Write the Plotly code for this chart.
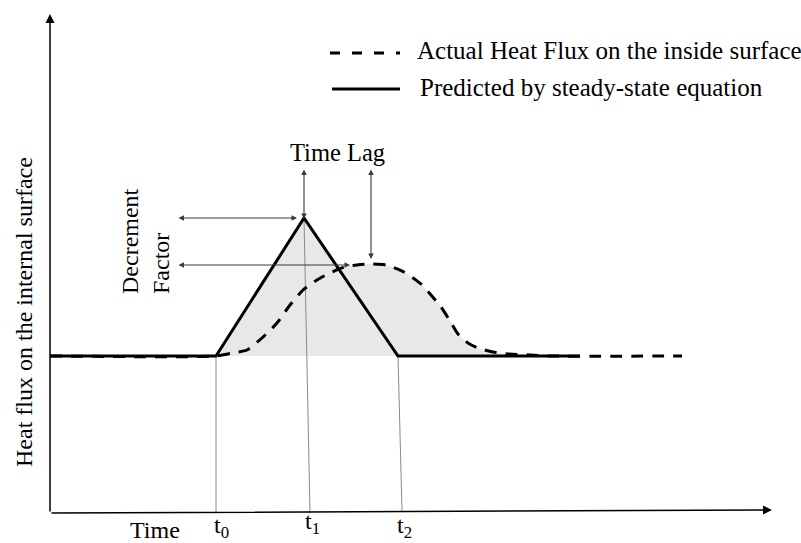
import plotly.graph_objects as go

# schematic units: time (x) and heat flux (y), arbitrary
baseline = 15.7
t0, t1, t2 = 16.6, 25.4, 34.8
peak_pred = 29.5

# predicted by steady-state equation (solid)
pred_t = [0.0, t0, t1, t2, 53.0]
pred_q = [baseline, baseline, peak_pred, baseline, baseline]

# actual heat flux on the inside surface (dashed)
act_t = [0.0, 16.6, 18.2, 19.7, 21.2, 22.7, 24.0, 25.3, 26.7, 28.0, 29.4, 30.7, 32.1,
         33.6, 35.4, 37.1, 38.1, 39.1, 40.0, 40.8, 41.8, 42.8, 44.3, 45.9, 48.0, 49.9, 63.2]
act_q = [15.7, 15.7, 16.0, 16.3, 17.5, 19.0, 20.8, 22.3, 23.3, 24.0, 24.6, 24.8, 24.9,
         24.8, 24.1, 22.9, 21.8, 20.6, 19.2, 17.9, 17.0, 16.5, 16.1, 15.9, 15.8, 15.7, 15.7]

tick_names = ["t<sub>0</sub>", "t<sub>1</sub>", "t<sub>2</sub>"]
legend_names = ["Actual Heat Flux on the inside surface", "Predicted by steady-state equation"]

FONT = "Liberation Serif"
fill_col = "#e8e8e8"

fig = go.Figure()

# shaded areas
fig.add_trace(go.Scatter(x=pred_t[1:4] + [t0], y=pred_q[1:4] + [baseline], fill="toself",
                         fillcolor=fill_col, line=dict(width=0), mode="lines", hoverinfo="skip"))
fig.add_trace(go.Scatter(x=act_t[1:-1], y=[baseline] * len(act_t[1:-1]), mode="lines",
                         line=dict(width=0), hoverinfo="skip"))
fig.add_trace(go.Scatter(x=act_t[1:-1], y=act_q[1:-1], mode="lines", fill="tonexty",
                         fillcolor=fill_col, line=dict(width=0, shape="spline", smoothing=0.6),
                         hoverinfo="skip"))

# thin guide lines down to the time axis
guide = dict(color="#8a8a8a", width=1)
fig.add_trace(go.Scatter(x=[t0, t0], y=[baseline, 0], mode="lines", line=guide, hoverinfo="skip"))
fig.add_trace(go.Scatter(x=[t1, t1 + 0.6], y=[peak_pred, 0], mode="lines", line=guide, hoverinfo="skip"))
fig.add_trace(go.Scatter(x=[t2, t2 + 0.4], y=[baseline, 0.2], mode="lines", line=guide, hoverinfo="skip"))

fig.add_trace(go.Scatter(x=act_t, y=act_q, mode="lines", name=legend_names[0],
                         line=dict(color="black", width=3, dash="12px,9px", shape="spline", smoothing=0.6)))
fig.add_trace(go.Scatter(x=pred_t, y=pred_q, mode="lines", name=legend_names[1],
                         line=dict(color="black", width=3)))

# legend drawn by hand
fig.add_shape(type="line", x0=28.0, x1=35.0, y0=46.0, y1=46.0,
              line=dict(color="black", width=3, dash="10px,12px"))
fig.add_shape(type="line", x0=28.2, x1=35.0, y0=42.4, y1=42.4, line=dict(color="black", width=3))
fig.add_annotation(x=36.5, y=46.3, text=legend_names[0], showarrow=False, xanchor="left",
                   font=dict(family=FONT, size=25, color="black"))
fig.add_annotation(x=36.8, y=42.6, text=legend_names[1], showarrow=False, xanchor="left",
                   font=dict(family=FONT, size=25, color="black"))


def arrow(x, y, ax, ay, both=True, color="#3a3a3a", width=1.1, size=1.0):
    fig.add_annotation(x=x, y=y, ax=ax, ay=ay, xref="x", yref="y", axref="x", ayref="y",
                       text="", showarrow=True, arrowhead=2, arrowsize=size, arrowwidth=width,
                       arrowcolor=color, arrowside="end+start" if both else "end",
                       startarrowhead=2, startarrowsize=size)


# axes
arrow(0, 49.9, 0, 0, both=False, color="black", width=1.5, size=1.2)
arrow(72.2, 0.3, 0, 0, both=False, color="black", width=1.5, size=1.2)

# time lag and decrement factor arrows
arrow(t1, 29.4, t1, 34.5)
arrow(32.1, 25.4, 32.1, 34.5)
arrow(24.7, peak_pred, 12.7, peak_pred)
arrow(30.0, 24.8, 12.7, 24.8)

txt = dict(family=FONT, size=24, color="black")
fig.add_annotation(x=28.7, y=36.1, text="Time Lag", showarrow=False,
                   font=dict(family=FONT, size=24.5, color="black"))
fig.add_annotation(x=9.5, y=27.2, text="Decrement<br>Factor", showarrow=False, textangle=-90,
                   align="left", font=txt)
fig.add_annotation(x=-2.6, y=20.1, text="Heat flux on the internal surface", showarrow=False,
                   textangle=-90, font=txt)
fig.add_annotation(x=10.5, y=-1.7, text="Time", showarrow=False, font=txt)
for tx, ty, name in zip([t0 + 0.5, t1 + 0.8, t2 + 0.6], [-1.4, -1.0, -1.4], tick_names):
    fig.add_annotation(x=tx, y=ty, text=name, showarrow=False, font=txt)

fig.update_xaxes(range=[-5.0, 75.1], visible=False)
fig.update_yaxes(range=[-3.0, 51.3], visible=False)
fig.update_layout(width=801, height=543, margin=dict(l=0, r=0, t=0, b=0),
                  plot_bgcolor="white", paper_bgcolor="white", showlegend=False)

# drop the page's default body margin so the figure sits at the window corner
fig.write_html("out.html", config={"displayModeBar": False},
               post_script="document.body.style.margin='0';")
